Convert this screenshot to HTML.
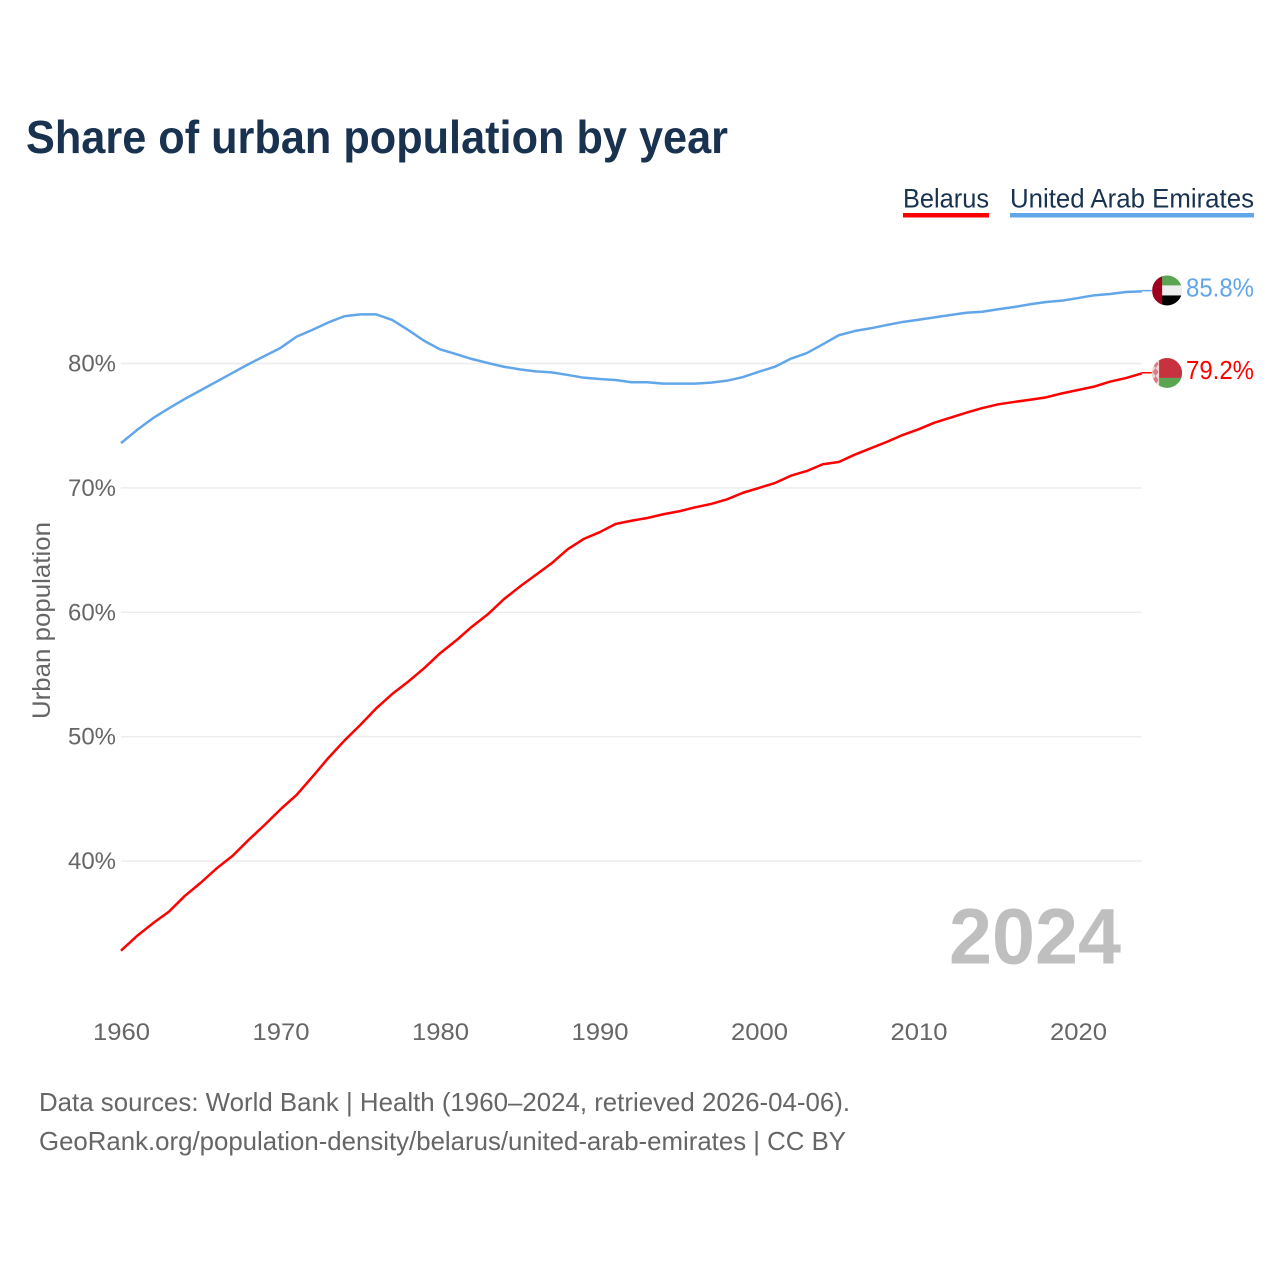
<!DOCTYPE html>
<html lang="en">
<head>
<meta charset="utf-8">
<title>Share of urban population by year</title>
<style>
html,body{margin:0;padding:0;background:#fff;}
svg{display:block;font-family:"Liberation Sans",sans-serif;}
</style>
</head>
<body>
<svg id="chart" width="1280" height="1280" viewBox="0 0 1280 1280" xmlns="http://www.w3.org/2000/svg">
  <defs>
    <clipPath id="flag-clip"><circle cx="0" cy="0" r="15"></circle></clipPath>
  </defs>
  <rect width="1280" height="1280" fill="#ffffff"></rect>
  <text x="26" y="153" font-size="46" font-weight="700" fill="#18324f" textLength="702" lengthAdjust="spacingAndGlyphs">Share of urban population by year</text>

  <g>
    <g>
      <text x="903" y="207.5" font-size="27" fill="#18324f" textLength="86" lengthAdjust="spacingAndGlyphs">Belarus</text>
      <rect x="903" y="213" width="86" height="4.5" fill="#ff0000"></rect>
    </g>
    <g>
      <text x="1010" y="207.5" font-size="27" fill="#18324f" textLength="244" lengthAdjust="spacingAndGlyphs">United Arab Emirates</text>
      <rect x="1010" y="213" width="244" height="4.5" fill="#62a6ea"></rect>
    </g>
  </g>

  <g id="grid"></g>
  <g id="y-ticks"></g>
  <g id="x-ticks"></g>
  <text transform="translate(50,719) rotate(-90)" font-size="25" fill="#666666" textLength="197" lengthAdjust="spacingAndGlyphs">Urban population</text>
  <g id="series"></g>

  <g id="flag-uae">
    <g clip-path="url(#flag-clip)">
      <rect x="-15" y="-15" width="30" height="10" fill="#5aa551"></rect>
      <rect x="-15" y="-5" width="30" height="10" fill="#eeeeee"></rect>
      <rect x="-15" y="5" width="30" height="10" fill="#000000"></rect>
      <rect x="-15" y="-15" width="10" height="30" fill="#a0001e"></rect>
    </g>
  </g>
  <g id="flag-blr">
    <g clip-path="url(#flag-clip)">
      <rect x="-15" y="-15" width="30" height="20" fill="#c8313e"></rect>
      <rect x="-15" y="5" width="30" height="10" fill="#5aa551"></rect>
      <rect x="-15" y="-15" width="7" height="30" fill="#f1d6d8"></rect>
      <path d="M-11.5 -13 L-8.5 -9 L-11.5 -5 L-14.5 -9 Z M-11.5 -5 L-8.5 -1 L-11.5 3 L-14.5 -1 Z M-11.5 3 L-8.5 7 L-11.5 11 L-14.5 7 Z" fill="#d57c85"></path>
    </g>
  </g>
  <text id="end-label-uae" x="1186" font-size="26" fill="#62a6ea" textLength="68" lengthAdjust="spacingAndGlyphs"></text>
  <text id="end-label-blr" x="1186" font-size="26" fill="#ff0000" textLength="68" lengthAdjust="spacingAndGlyphs"></text>

  <text x="949" y="963.5" font-size="79" font-weight="700" fill="#bfbfbf" textLength="172" lengthAdjust="spacingAndGlyphs">2024</text>

  <text x="39" y="1111" font-size="26" fill="#666666" textLength="811" lengthAdjust="spacingAndGlyphs">Data sources: World Bank | Health (1960–2024, retrieved 2026-04-06).</text>
  <text x="39" y="1150" font-size="26" fill="#666666" textLength="807" lengthAdjust="spacingAndGlyphs">GeoRank.org/population-density/belarus/united-arab-emirates | CC BY</text>
</svg>
<script>
var startYear = 1960;
var yTickValues = [40, 50, 60, 70, 80];
var xTickValues = [1960, 1970, 1980, 1990, 2000, 2010, 2020];
var belarusValues = [
  32.8, 33.98, 35.0, 35.93, 37.2, 38.26, 39.42, 40.43, 41.7, 42.9,
  44.16, 45.31, 46.78, 48.29, 49.68, 50.94, 52.28, 53.43, 54.42, 55.5,
  56.7, 57.72, 58.84, 59.84, 61.05, 62.06, 63.0, 63.94, 65.06, 65.89,
  66.43, 67.1, 67.36, 67.58, 67.88, 68.12, 68.44, 68.71, 69.08, 69.61,
  70.0, 70.39, 70.98, 71.36, 71.9, 72.08, 72.67, 73.18, 73.69, 74.25,
  74.71, 75.24, 75.64, 76.05, 76.42, 76.72, 76.91, 77.09, 77.28, 77.6,
  77.87, 78.14, 78.54, 78.83, 79.2
];
var uaeValues = [
  73.6, 74.65, 75.6, 76.4, 77.15, 77.85, 78.55, 79.25, 79.95, 80.6,
  81.25, 82.15, 82.7, 83.3, 83.8, 83.95, 83.95, 83.5, 82.7, 81.83,
  81.14, 80.76, 80.36, 80.04, 79.74, 79.53, 79.37, 79.29, 79.08, 78.86,
  78.75, 78.67, 78.49, 78.49, 78.38, 78.38, 78.38, 78.46, 78.62, 78.91,
  79.34, 79.74, 80.39, 80.84, 81.54, 82.27, 82.61, 82.83, 83.09, 83.34,
  83.52, 83.71, 83.9, 84.08, 84.16, 84.36, 84.54, 84.76, 84.94, 85.05,
  85.26, 85.48, 85.59, 85.75, 85.8
];

var SVG_NS = 'http://www.w3.org/2000/svg';
function xScale(year) { return 121 + (year - 1960) * 15.95; }
function yScale(value) { return 363.5 + (80 - value) * 12.44; }

var grid = document.getElementById('grid');
var yTicks = document.getElementById('y-ticks');
var xTicks = document.getElementById('x-ticks');
var seriesGroup = document.getElementById('series');

yTickValues.forEach(function (v) {
  var line = document.createElementNS(SVG_NS, 'line');
  
  
  line.setAttribute('x1', xScale(1960));
  line.setAttribute('x2', xScale(2024));
  line.setAttribute('y1', yScale(v));
  line.setAttribute('y2', yScale(v));
  line.setAttribute('stroke', '#ececec');
  line.setAttribute('stroke-width', '1.4');
  grid.appendChild(line);

  var label = document.createElementNS(SVG_NS, 'text');
  
  
  label.setAttribute('x', 68);
  label.setAttribute('y', yScale(v) + 8);
  label.setAttribute('font-size', '24');
  label.setAttribute('fill', '#666666');
  label.setAttribute('textLength', '48');
  label.setAttribute('lengthAdjust', 'spacingAndGlyphs');
  label.textContent = v + '%';
  yTicks.appendChild(label);
});

xTickValues.forEach(function (yr) {
  var label = document.createElementNS(SVG_NS, 'text');
  
  
  label.setAttribute('x', xScale(yr) - 28);
  label.setAttribute('y', 1040);
  label.setAttribute('font-size', '24');
  label.setAttribute('fill', '#666666');
  label.setAttribute('textLength', '57');
  label.setAttribute('lengthAdjust', 'spacingAndGlyphs');
  label.textContent = yr;
  xTicks.appendChild(label);
});

function pointsFor(values) {
  return values.map(function (v, i) {
    return xScale(startYear + i).toFixed(2) + ',' + yScale(v).toFixed(2);
  }).join(' ');
}

var belarusLine = document.createElementNS(SVG_NS, 'polyline');


belarusLine.setAttribute('points', pointsFor(belarusValues));
belarusLine.setAttribute('fill', 'none');
belarusLine.setAttribute('stroke', '#ff0000');
belarusLine.setAttribute('stroke-width', '2.5');
belarusLine.setAttribute('stroke-linejoin', 'round');
seriesGroup.appendChild(belarusLine);

var uaeLine = document.createElementNS(SVG_NS, 'polyline');


uaeLine.setAttribute('points', pointsFor(uaeValues));
uaeLine.setAttribute('fill', 'none');
uaeLine.setAttribute('stroke', '#62a6ea');
uaeLine.setAttribute('stroke-width', '2.5');
uaeLine.setAttribute('stroke-linejoin', 'round');
seriesGroup.appendChild(uaeLine);

var uaeLast = uaeValues[uaeValues.length - 1];
var blrLast = belarusValues[belarusValues.length - 1];

var uaeConnector = document.createElementNS(SVG_NS, 'line');


uaeConnector.setAttribute('x1', xScale(2024));
uaeConnector.setAttribute('x2', xScale(2024) + 10);
uaeConnector.setAttribute('y1', yScale(uaeLast) - 0.7);
uaeConnector.setAttribute('y2', yScale(uaeLast) - 0.7);
uaeConnector.setAttribute('stroke', '#62a6ea');
uaeConnector.setAttribute('stroke-width', '1.5');
seriesGroup.appendChild(uaeConnector);

var blrConnector = document.createElementNS(SVG_NS, 'line');


blrConnector.setAttribute('x1', xScale(2024));
blrConnector.setAttribute('x2', xScale(2024) + 10);
blrConnector.setAttribute('y1', yScale(blrLast) - 0.7);
blrConnector.setAttribute('y2', yScale(blrLast) - 0.7);
blrConnector.setAttribute('stroke', '#ff0000');
blrConnector.setAttribute('stroke-width', '1.5');
seriesGroup.appendChild(blrConnector);

document.getElementById('flag-uae').setAttribute('transform', 'translate(' + (xScale(2024) + 25.3) + ',' + (yScale(uaeLast) - 0.9) + ')');
document.getElementById('flag-blr').setAttribute('transform', 'translate(' + (xScale(2024) + 25.3) + ',' + (yScale(blrLast) - 0.5) + ')');

var uaeLabel = document.getElementById('end-label-uae');
uaeLabel.setAttribute('y', yScale(uaeLast) + 5);
uaeLabel.textContent = uaeLast.toFixed(1) + '%';

var blrLabel = document.getElementById('end-label-blr');
blrLabel.setAttribute('y', yScale(blrLast) + 5.5);
blrLabel.textContent = blrLast.toFixed(1) + '%';
</script>
</body>
</html>
